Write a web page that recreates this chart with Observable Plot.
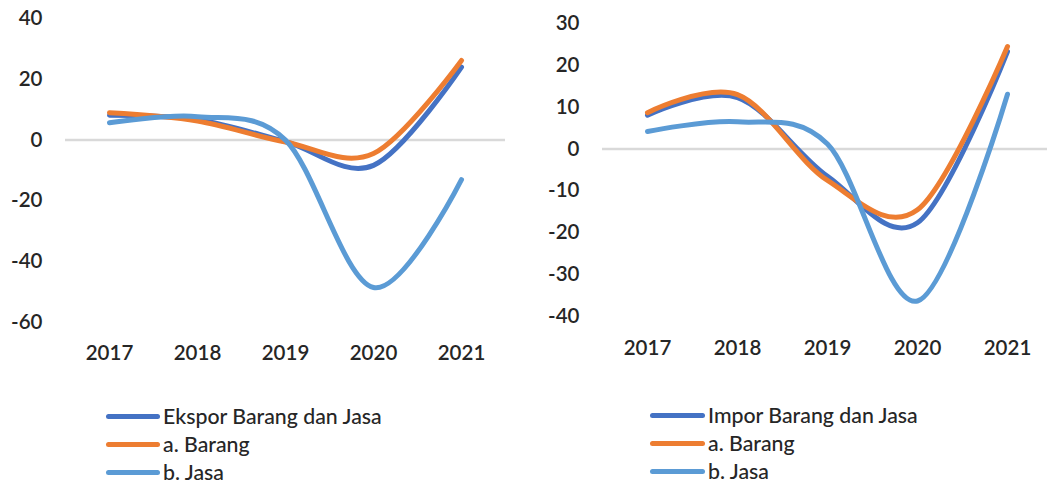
<!DOCTYPE html>
<html><head><meta charset="utf-8">
<script src="https://cdn.jsdelivr.net/npm/d3@7"></script>
<script src="https://cdn.jsdelivr.net/npm/@observablehq/plot@0.6"></script>
<style>
body{margin:0;background:#fff;overflow:hidden}
#wrap{position:relative;width:1047px;height:486px;overflow:hidden;font-family:Lato,"Open Sans",sans-serif;color:#262626}
.panel{position:absolute;top:0}
.legend{position:absolute;font-size:21.3px;line-height:20px;font-weight:500}
.row{display:flex;align-items:center;height:20px;margin-bottom:8px;white-space:nowrap}
.sw{display:inline-block;height:5px;border-radius:3px;margin-right:3px}
</style></head>
<body><div id="wrap"></div>
<script>
const years = ["2017","2018","2019","2020","2021"];
const colors = ["#4472C4","#ED7D31","#5B9BD5"];
// left panel: exports
const leftNames = ["Ekspor Barang dan Jasa","a. Barang","b. Jasa"];
const eksporTotal = [8.2, 6.7, -0.5, -8.3, 24.0];
const eksporBarang = [9.0, 6.3, -0.6, -4.4, 26.2];
const eksporJasa = [5.7, 7.7, 0.0, -48.5, -13.0];
const leftTicks = [-60,-40,-20,0,20,40];
// right panel: imports
const rightNames = ["Impor Barang dan Jasa","a. Barang","b. Jasa"];
const imporTotal = [8.1, 12.3, -6.5, -17.6, 23.3];
const imporBarang = [8.7, 13.0, -7.5, -14.5, 24.5];
const imporJasa = [4.2, 6.5, 1.2, -36.3, 13.1];
const rightTicks = [-40,-30,-20,-10,0,10,20,30];

function panel(seriesVals, ticks, o){
  return Plot.plot({
    width:o.width, height:o.height,
    marginLeft:o.ml, marginRight:o.mr, marginTop:o.mt, marginBottom:o.mb,
    x:{type:"point", domain:years, padding:0.5, label:null, tickSize:0, tickPadding:o.xpad},
    y:{domain:[ticks[0], ticks[ticks.length-1]], ticks:ticks, tickFormat:d=>String(d), label:null, tickSize:0, tickPadding:23},
    style:{fontFamily:'Lato,"Open Sans",sans-serif', fontSize:"20.5px", fontWeight:"600", color:"#262626", background:"transparent", overflow:"visible"},
    marks:[
      Plot.ruleY([0],{stroke:"#d9d9d9", strokeWidth:2.5}),
      ...seriesVals.map((vals,k)=>Plot.line(years.map((y,i)=>({year:y, value:vals[i]})),
        {x:"year", y:"value", stroke:colors[k], strokeWidth:5, curve:"cardinal"}))
    ]
  });
}
function legend(names, x, y, swW){
  const d = document.createElement("div");
  d.className="legend"; d.style.left=x+"px"; d.style.top=y+"px";
  names.forEach((n,k)=>{
    const r=document.createElement("div"); r.className="row";
    const s=document.createElement("span"); s.className="sw"; s.style.width=swW+"px"; s.style.background=colors[k];
    r.appendChild(s); r.appendChild(document.createTextNode(n)); d.appendChild(r);
  });
  return d;
}
const wrap=document.getElementById("wrap");
const L = panel([eksporTotal,eksporBarang,eksporJasa], leftTicks, {width:530,height:372,ml:65,mr:25,mt:18,mb:50,xpad:23});
L.classList.add("panel"); L.style.left="0px"; wrap.appendChild(L);
const R = panel([imporTotal,imporBarang,imporJasa], rightTicks, {width:522,height:366,ml:72,mr:0,mt:23,mb:50,xpad:24});
R.classList.add("panel"); R.style.left="530px"; wrap.appendChild(R);
wrap.appendChild(legend(leftNames,106,406,54));
wrap.appendChild(legend(rightNames,650,405,55));
</script></body></html>
